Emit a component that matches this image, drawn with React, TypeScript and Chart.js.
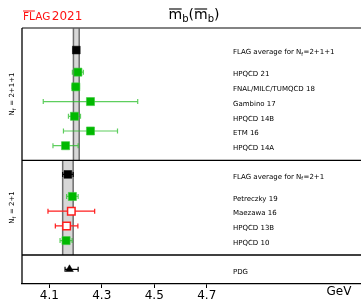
import React, { useEffect, useRef } from "react";
import { Chart, registerables } from "chart.js";

Chart.register(...registerables);

// ---- data ----
const entryLabels = [
  "FLAG average for N|f|=2+1+1",
  "HPQCD 21",
  "FNAL/MILC/TUMQCD 18",
  "Gambino 17",
  "HPQCD 14B",
  "ETM 16",
  "HPQCD 14A",
  "FLAG average for N|f|=2+1",
  "Petreczky 19",
  "Maezawa 16",
  "HPQCD 13B",
  "HPQCD 10",
  "PDG",
];
const values = [4.203, 4.209, 4.201, 4.257, 4.196, 4.257, 4.162, 4.171, 4.188, 4.184, 4.166, 4.164, 4.177];
const errLow = [0.011, 0.021, 0.014, 0.18, 0.023, 0.103, 0.048, 0.02, 0.022, 0.089, 0.043, 0.023, 0.017];
const errHigh = [0.011, 0.021, 0.014, 0.18, 0.023, 0.103, 0.048, 0.02, 0.022, 0.089, 0.043, 0.023, 0.033];
const rows = [1.5, 3, 4, 5, 6, 7, 8, 9.95, 11.45, 12.45, 13.45, 14.45, 16.4];
const kinds = ["avg", "green", "green", "green", "green", "green", "green", "avg", "green", "open", "open", "green", "pdg"];
const separators = [9, 15.43];
const sectionLabels = ["N|f| = 2+1+1", "N|f| = 2+1"];
const sectionSpans = [[0, 9], [9, 15.43]];
const bandSource = [0, 7];
const tickValues = [4.1, 4.3, 4.5, 4.7];
const tickLabels = ["4.1", "4.3", "4.5", "4.7"];
const xMin = 3.996;
const xMax = 5.288;
const yMax = 17.4;
const labelX = 4.8;

const FONT = "'DejaVu Sans', sans-serif";
const GREEN = "rgb(0,185,0)";
const GREEN_BAR = "rgba(40,190,40,0.75)";
const RED = "rgb(255,30,30)";

function drawRich(ctx: CanvasRenderingContext2D, text: string, x: number, y: number, size: number) {
  const parts = text.split("|");
  let cx = x;
  parts.forEach((p, i) => {
    const sub = i % 2 === 1;
    const s = sub ? size * 0.7 : size;
    ctx.font = `${s}px ${FONT}`;
    ctx.fillText(p, cx, y + (sub ? size * 0.25 : 0));
    cx += ctx.measureText(p).width + (sub ? 0.5 : 0);
  });
}

const overlay = {
  id: "overlay",
  beforeDatasetsDraw(chart: any) {
    const ctx = chart.ctx as CanvasRenderingContext2D;
    const xs = chart.scales.x;
    const ys = chart.scales.y;
    const area = chart.chartArea;
    ctx.save();
    bandSource.forEach((bi, k) => {
      const x1 = xs.getPixelForValue(values[bi] - errLow[bi]);
      const x2 = xs.getPixelForValue(values[bi] + errHigh[bi]);
      const y1 = ys.getPixelForValue(sectionSpans[k][0]);
      const y2 = ys.getPixelForValue(sectionSpans[k][1]);
      ctx.fillStyle = "rgb(215,215,215)";
      ctx.fillRect(x1, y1, x2 - x1, y2 - y1);
      ctx.strokeStyle = "rgb(110,110,110)";
      ctx.lineWidth = 1.5;
      ctx.beginPath();
      ctx.moveTo(x1, y1);
      ctx.lineTo(x1, y2);
      ctx.moveTo(x2, y1);
      ctx.lineTo(x2, y2);
      ctx.stroke();
    });
    ctx.strokeStyle = "#000";
    ctx.lineWidth = 1.3;
    separators.forEach((s) => {
      const y = ys.getPixelForValue(s);
      ctx.beginPath();
      ctx.moveTo(area.left, y);
      ctx.lineTo(area.right, y);
      ctx.stroke();
    });
    ctx.strokeStyle = "rgb(90,90,90)";
    ctx.lineWidth = 1.5;
    ctx.beginPath();
    ctx.moveTo(area.left, area.top);
    ctx.lineTo(area.right, area.top);
    ctx.stroke();
    ctx.strokeStyle = "#000";
    ctx.lineWidth = 1.3;
    ctx.beginPath();
    ctx.moveTo(area.left, area.top);
    ctx.lineTo(area.left, area.bottom);
    ctx.stroke();
    values.forEach((v, i) => {
      const k = kinds[i];
      const col = k === "green" ? GREEN_BAR : k === "open" ? RED : "#000";
      const y = ys.getPixelForValue(rows[i]);
      const a = xs.getPixelForValue(v - errLow[i]);
      const b = xs.getPixelForValue(v + errHigh[i]);
      ctx.strokeStyle = col;
      ctx.lineWidth = 1.2;
      ctx.beginPath();
      ctx.moveTo(a, y);
      ctx.lineTo(b, y);
      ctx.moveTo(a, y - 2.5);
      ctx.lineTo(a, y + 2.5);
      ctx.moveTo(b, y - 2.5);
      ctx.lineTo(b, y + 2.5);
      ctx.stroke();
    });
    ctx.restore();
  },
  afterDraw(chart: any) {
    const ctx = chart.ctx as CanvasRenderingContext2D;
    const xs = chart.scales.x;
    const ys = chart.scales.y;
    const area = chart.chartArea;
    ctx.save();
    ctx.fillStyle = "#000";
    ctx.textBaseline = "middle";
    ctx.textAlign = "left";
    const lx = xs.getPixelForValue(labelX);
    entryLabels.forEach((t, i) => {
      drawRich(ctx, t, lx, ys.getPixelForValue(rows[i]) + 2.5, 7);
    });
    sectionSpans.forEach((sp, k) => {
      const cy = (ys.getPixelForValue(sp[0]) + ys.getPixelForValue(sp[1])) / 2;
      ctx.save();
      ctx.translate(12.5, cy);
      ctx.rotate(-Math.PI / 2);
      const t = sectionLabels[k];
      const parts = t.split("|");
      let w = 0;
      parts.forEach((p, i) => {
        ctx.font = `${i % 2 ? 4.9 : 7}px ${FONT}`;
        w += ctx.measureText(p).width;
      });
      drawRich(ctx, t, -w / 2, 0, 7);
      ctx.restore();
    });
    ctx.font = `12px ${FONT}`;
    ctx.textAlign = "center";
    ctx.fillText("GeV", area.right - 22, 292);
    ctx.fillStyle = "rgb(255,20,20)";
    ctx.strokeStyle = "rgb(255,20,20)";
    ctx.textAlign = "left";
    ctx.textBaseline = "alphabetic";
    ctx.font = `10.5px ${FONT}`;
    const fx = 23;
    const fy = 20;
    ctx.fillText("FLAG", fx, fy);
    const flw = ctx.measureText("FL").width;
    const fw = ctx.measureText("FLAG").width;
    ctx.lineWidth = 1;
    ctx.beginPath();
    ctx.moveTo(fx, 11);
    ctx.lineTo(fx + flw, 11);
    ctx.stroke();
    ctx.font = `12px ${FONT}`;
    ctx.fillText("2021", fx + fw + 1.5, fy);
    ctx.fillStyle = "#000";
    ctx.strokeStyle = "#000";
    const titleParts = [
      { t: "m", s: 14, dy: 0, ol: true },
      { t: "b", s: 10, dy: 3, ol: false },
      { t: "(", s: 14, dy: 0, ol: false },
      { t: "m", s: 14, dy: 0, ol: true },
      { t: "b", s: 10, dy: 3, ol: false },
      { t: ")", s: 14, dy: 0, ol: false },
    ];
    let tw = 0;
    titleParts.forEach((p) => {
      ctx.font = `${p.s}px ${FONT}`;
      tw += ctx.measureText(p.t).width;
    });
    let tx = 194 - tw / 2;
    const ty = 19;
    titleParts.forEach((p) => {
      ctx.font = `${p.s}px ${FONT}`;
      const w = ctx.measureText(p.t).width;
      ctx.fillText(p.t, tx, ty + p.dy);
      if (p.ol) {
        ctx.lineWidth = 1.1;
        ctx.beginPath();
        ctx.moveTo(tx + 0.5, 9);
        ctx.lineTo(tx + w - 0.5, 9);
        ctx.stroke();
      }
      tx += w;
    });
    ctx.restore();
  },
};

function pts(kind: string) {
  const out: { x: number; y: number }[] = [];
  values.forEach((v, i) => {
    if (kinds[i] === kind) out.push({ x: v, y: rows[i] });
  });
  return out;
}

export default function App() {
  const ref = useRef<HTMLCanvasElement | null>(null);
  useEffect(() => {
    if (!ref.current) return;
    const chart = new Chart(ref.current, {
      type: "scatter",
      data: {
        datasets: [
          {
            data: pts("green"),
            pointStyle: "rect",
            pointRadius: 5.7,
            backgroundColor: GREEN,
            borderColor: "rgba(60,200,60,0.6)",
            borderWidth: 1,
          },
          {
            data: pts("open"),
            pointStyle: "rect",
            pointRadius: 5.3,
            backgroundColor: "#fff",
            borderColor: RED,
            borderWidth: 1.5,
          },
          {
            data: pts("avg"),
            pointStyle: "rect",
            pointRadius: 5.5,
            backgroundColor: "#000",
            borderColor: "#000",
            borderWidth: 0.5,
          },
          {
            data: pts("pdg"),
            pointStyle: "triangle",
            pointRadius: 4.5,
            backgroundColor: "#000",
            borderColor: "#000",
            borderWidth: 0.5,
          },
        ],
      },
      options: {
        animation: false,
        responsive: false,
        layout: { autoPadding: false, padding: { left: 22, top: 28, right: 0, bottom: 0 } },
        plugins: { legend: { display: false }, tooltip: { enabled: false }, title: { display: false } },
        scales: {
          x: {
            type: "linear",
            min: xMin,
            max: xMax,
            afterBuildTicks: (s: any) => {
              s.ticks = tickValues.map((v) => ({ value: v }));
            },
            afterFit: (s: any) => {
              s.height = 16;
              s.paddingLeft = 0;
              s.paddingRight = 0;
            },
            grid: { drawOnChartArea: false, drawTicks: true, tickLength: 4, color: "#000" },
            border: { display: true, color: "#000", width: 1.3 },
            ticks: {
              font: { family: "DejaVu Sans", size: 12 },
              color: "#000",
              padding: 1,
              maxRotation: 0,
              autoSkip: false,
              callback: (v: any) => {
                const i = tickValues.findIndex((t) => Math.abs(t - Number(v)) < 1e-6);
                return i >= 0 ? tickLabels[i] : "";
              },
            },
          },
          y: { type: "linear", reverse: true, min: 0, max: yMax, display: false },
        },
      },
      plugins: [overlay],
    } as any);
    return () => chart.destroy();
  }, []);
  return (
    <div style={{ position: "fixed", left: 0, top: 0, width: 361, height: 300 }}>
      <canvas ref={ref} width={361} height={300} style={{ width: 361, height: 300 }} />
    </div>
  );
}
